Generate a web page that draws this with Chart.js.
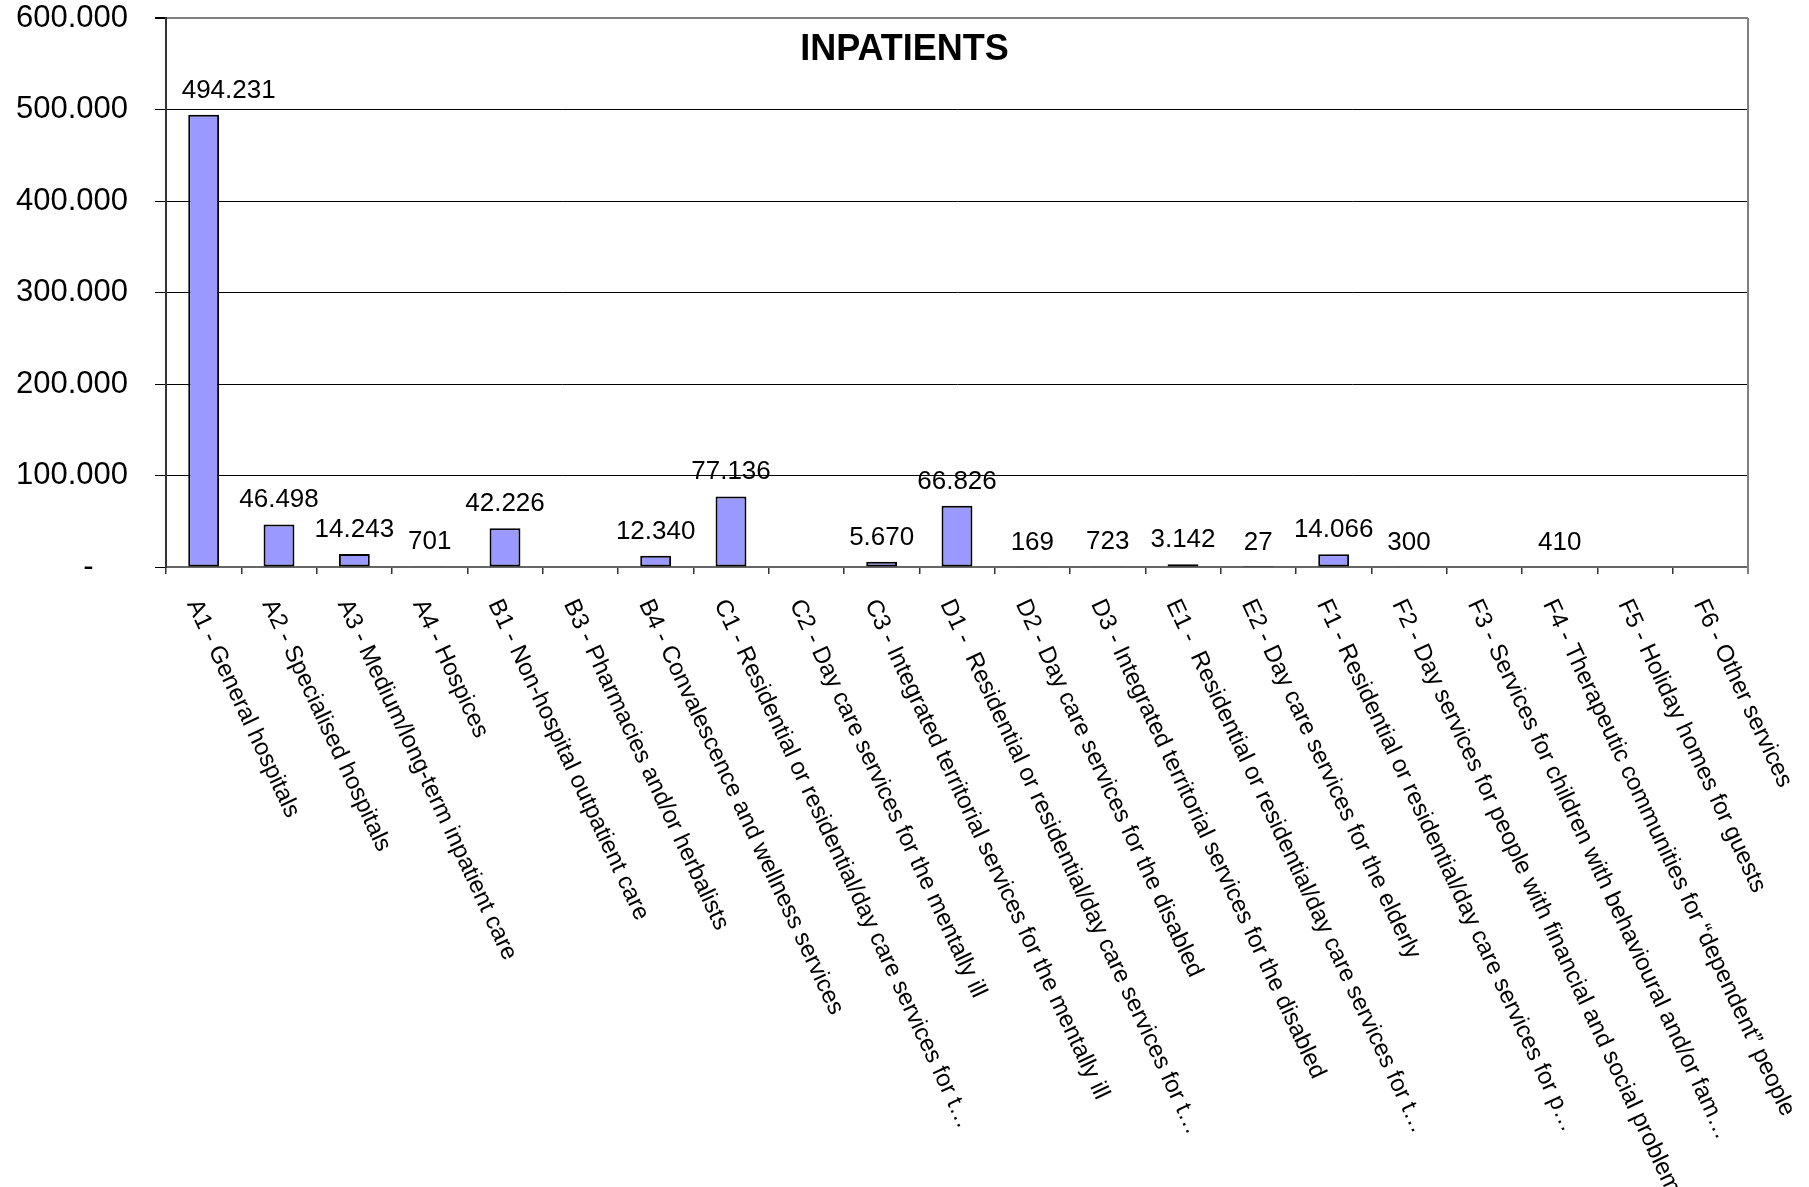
<!DOCTYPE html>
<html>
<head>
<meta charset="utf-8">
<title>Inpatients</title>
<script src="https://cdn.jsdelivr.net/npm/chart.js@4.4.0/dist/chart.umd.min.js"></script>
<style>
  html, body { margin: 0; padding: 0; background: #fff; }
  canvas { display: block; }
</style>
</head>
<body>
<canvas id="inpatientsChart" width="1809" height="1187"></canvas>
<script>
const categories = [
    'A1 - General hospitals',
    'A2 - Specialised hospitals',
    'A3 - Medium/long-term inpatient care',
    'A4 - Hospices',
    'B1 - Non-hospital outpatient care',
    'B3 - Pharmacies and/or herbalists',
    'B4 - Convalescence and wellness services',
    'C1 - Residential or residential/day care services for t…',
    'C2 - Day care services for the mentally ill',
    'C3 - Integrated territorial services for the mentally ill',
    'D1 -  Residential or residential/day care services for t…',
    'D2 - Day care services for the disabled',
    'D3 - Integrated territorial services for the disabled',
    'E1 -  Residential or residential/day care services for t…',
    'E2 - Day care services for the elderly',
    'F1 - Residential or residential/day care services for p…',
    'F2 - Day services for people with financial and social problems',
    'F3 - Services for children with behavioural and/or fam…',
    'F4 - Therapeutic communities for “dependent” people',
    'F5 - Holiday homes for guests',
    'F6 - Other services'
];

const inpatients = [494231, 46498, 14243, 701, 42226, null, 12340, 77136, null, 5670,
                    66826, 169, 723, 3142, 27, 14066, 300, null, 410, null, null];

const yMax = 600000;
const yStep = 100000;
const chartTitle = 'INPATIENTS';

const FONT = '"Liberation Sans", Arial, sans-serif';

function formatNumber(num) {
    return num.toString().replace(/\B(?=(\d{3})+(?!\d))/g, ".");
}

// titolo dentro l'area del grafico, centrato sulla pagina
const titlePlugin = {
    id: 'insideTitle',
    afterDraw(chart) {
        const ctx = chart.ctx;
        ctx.save();
        ctx.font = 'bold 36px ' + FONT;
        ctx.fillStyle = '#000';
        ctx.textAlign = 'center';
        ctx.textBaseline = 'alphabetic';
        ctx.fillText(chartTitle, chart.width / 2, 60);
        ctx.restore();
    }
};

// etichette dei valori sopra le barre
const valueLabels = {
    id: 'valueLabels',
    afterDatasetsDraw(chart) {
        const ctx = chart.ctx;
        const meta = chart.getDatasetMeta(0);
        ctx.save();
        ctx.font = '26px ' + FONT;
        ctx.fillStyle = '#000';
        ctx.textAlign = 'center';
        ctx.textBaseline = 'alphabetic';
        meta.data.forEach((bar, i) => {
            const v = inpatients[i];
            if (v === null) return;
            const shift = i === 0 ? 25 : 0; // in the original the first label sits a bit to the right
            ctx.fillText(formatNumber(v), bar.x + shift, bar.y - 17);
        });
        ctx.restore();
    }
};

// etichette delle categorie ruotate verso il basso
const slantedLabels = {
    id: 'slantedLabels',
    afterDraw(chart) {
        const ctx = chart.ctx;
        const xScale = chart.scales.x;
        const angle = 65 * Math.PI / 180;
        ctx.save();
        ctx.font = '24px ' + FONT;
        ctx.fillStyle = '#000';
        ctx.textAlign = 'left';
        ctx.textBaseline = 'top';
        categories.forEach((label, i) => {
            const x = xScale.getPixelForTick(i);
            ctx.save();
            ctx.translate(x, xScale.top + 29);
            ctx.rotate(angle);
            ctx.fillText(label, 0, 0);
            ctx.restore();
        });
        ctx.restore();
    }
};

// bordo destro dell'area del grafico
const plotFrame = {
    id: 'plotFrame',
    afterDraw(chart) {
        const { ctx, chartArea } = chart;
        ctx.save();
        ctx.strokeStyle = '#808080';
        ctx.lineWidth = 2;
        ctx.beginPath();
        ctx.moveTo(chartArea.right, chartArea.top);
        ctx.lineTo(chartArea.right, chartArea.bottom + 7);
        ctx.stroke();
        ctx.restore();
    }
};

new Chart(document.getElementById('inpatientsChart'), {
    type: 'bar',
    data: {
        labels: categories,
        datasets: [{
            label: 'Inpatients',
            data: inpatients,
            backgroundColor: '#9999FF',
            borderColor: '#000',
            borderWidth: 2,
            borderSkipped: false,
            barPercentage: 0.41,
            categoryPercentage: 1
        }]
    },
    options: {
        responsive: false,
        animation: false,
        layout: { padding: { top: 18, right: 61, left: 0, bottom: 0 } },
        plugins: {
            legend: { display: false },
            title: { display: false },
            tooltip: { enabled: false }
        },
        scales: {
            x: {
                ticks: { display: false },
                grid: {
                    drawOnChartArea: false,
                    drawTicks: true,
                    tickLength: 7,
                    color: '#333',
                    lineWidth: 1.5
                },
                border: { color: '#666', width: 2 },
                afterFit(scale) { scale.height = 620; }
            },
            y: {
                min: 0,
                max: yMax,
                ticks: {
                    stepSize: yStep,
                    padding: 27,
                    color: '#000',
                    font: { family: FONT, size: 31, lineHeight: 1 },
                    callback: v => v === 0 ? '-    ' : formatNumber(v)
                },
                grid: {
                    color: c => c.tick && c.tick.value === yMax ? '#808080' : '#000',
                    lineWidth: c => c.tick && c.tick.value === yMax ? 2 : 1,
                    tickColor: '#000',
                    tickLength: 11
                },
                border: { color: '#333', width: 2 },
                afterFit(scale) {
                    scale.width = 166;
                    // la padding dei tick non deve spostare l'area del grafico
                    scale.paddingTop = 0;
                    scale.paddingBottom = 0;
                }
            }
        }
    },
    plugins: [valueLabels, slantedLabels, plotFrame, titlePlugin]
});
</script>
</body>
</html>
